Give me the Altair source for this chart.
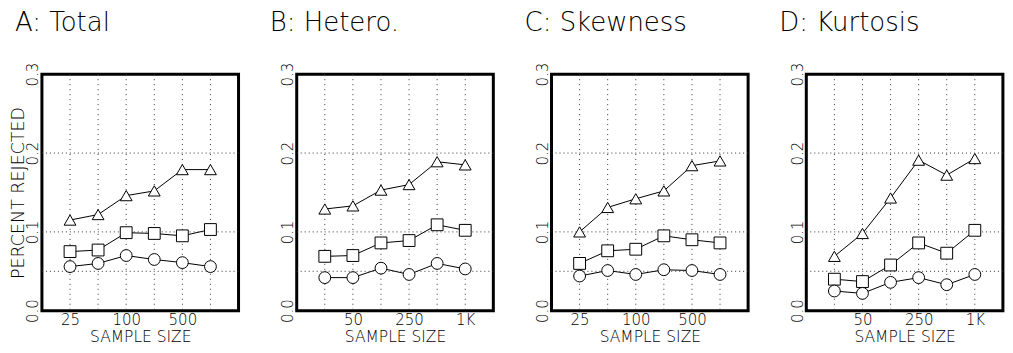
import altair as alt
import pandas as pd

# sample-size positions (1..6 correspond to 25, 50, 100, 250, 500, 1K)
positions = [1, 2, 3, 4, 5, 6]
sample_sizes = ["25", "50", "100", "250", "500", "1K"]

panel_titles = ["A: Total", "B: Hetero.", "C: Skewness", "D: Kurtosis"]
label_positions = [[1, 3, 5], [2, 4, 6], [1, 3, 5], [2, 4, 6]]

A_tri = [0.115, 0.122, 0.146, 0.152, 0.179, 0.179]
A_sq = [0.075, 0.077, 0.099, 0.098, 0.095, 0.103]
A_circ = [0.056, 0.060, 0.070, 0.065, 0.061, 0.056]
B_tri = [0.129, 0.133, 0.153, 0.160, 0.189, 0.185]
B_sq = [0.069, 0.070, 0.086, 0.089, 0.109, 0.102]
B_circ = [0.042, 0.042, 0.054, 0.046, 0.060, 0.053]
C_tri = [0.100, 0.131, 0.142, 0.152, 0.184, 0.190]
C_sq = [0.060, 0.076, 0.078, 0.095, 0.090, 0.086]
C_circ = [0.044, 0.051, 0.046, 0.052, 0.051, 0.046]
D_tri = [0.069, 0.098, 0.143, 0.191, 0.172, 0.193]
D_sq = [0.040, 0.037, 0.058, 0.086, 0.073, 0.102]
D_circ = [0.025, 0.022, 0.036, 0.042, 0.033, 0.046]

series_data = [
    (A_tri, A_sq, A_circ),
    (B_tri, B_sq, B_circ),
    (C_tri, C_sq, C_circ),
    (D_tri, D_sq, D_circ),
]
series_names = ["tri", "sq", "circ"]
y_grid = [0.05, 0.1, 0.2]
y_ticks = [0.0, 0.1, 0.2, 0.3]

FONT = "DejaVu Sans"
W, H = 197, 237

panels = []
for i, title in enumerate(panel_titles):
    rows = []
    for name, vals in zip(series_names, series_data[i]):
        for p, v in zip(positions, vals):
            rows.append({"pos": p, "value": v, "series": name})
    df = pd.DataFrame(rows)

    labs = label_positions[i]
    expr = "''"
    for p in reversed(labs):
        expr = f"datum.value == {p} ? '{sample_sizes[p - 1]}' : " + expr

    xenc = alt.X(
        "pos:Q",
        scale=alt.Scale(domain=[0, 7], nice=False, zero=False),
        axis=alt.Axis(values=labs, labelExpr=expr, grid=False, ticks=False,
                      tickSize=0, domain=False, labelPadding=2,
                      title="SAMPLE SIZE", titlePadding=2),
    )
    yaxis = alt.Axis(values=y_ticks, format=".1f", grid=False, ticks=False,
                     tickSize=0, domain=False, labelAngle=-90,
                     labelAlign="center", labelBaseline="bottom",
                     labelPadding=1, titleX=-18, titleY=H / 2,
                     titleAngle=-90, titleAlign="center",
                     titleBaseline="alphabetic")
    if i == 0:
        yenc = alt.Y("value:Q", scale=alt.Scale(domain=[0, 0.3], nice=False),
                     axis=yaxis, title="PERCENT REJECTED")
    else:
        yenc = alt.Y("value:Q", scale=alt.Scale(domain=[0, 0.3], nice=False),
                     axis=yaxis, title=None)

    vgrid = alt.Chart(pd.DataFrame({"pos": positions})).mark_rule(
        color="#333", strokeWidth=1, strokeDash=[1, 4]
    ).encode(x=alt.X("pos:Q"))
    hgrid = alt.Chart(pd.DataFrame({"value": y_grid})).mark_rule(
        color="#333", strokeWidth=1, strokeDash=[1, 3]
    ).encode(y=alt.Y("value:Q"))

    base = alt.Chart(df)
    lines = base.mark_line(color="black", strokeWidth=1).encode(
        x=xenc, y=yenc, detail="series:N"
    )
    pts = base.mark_point(filled=True, fill="white", stroke="black",
                          strokeWidth=1, size=140, opacity=1).encode(
        x=xenc, y=yenc,
        shape=alt.Shape("series:N",
                        scale=alt.Scale(domain=series_names,
                                        range=["triangle-up", "square", "circle"]),
                        legend=None),
    )
    layer = alt.layer(lines, vgrid, hgrid, pts).properties(
        width=W, height=H,
        title=alt.TitleParams(title, anchor="start", frame="group", dx=-27,
                              fontSize=26, font=FONT, fontWeight=200,
                              color="black", offset=26),
    )
    panels.append(layer)

chart = alt.hconcat(*panels, spacing=58.3, bounds="flush").properties(
    padding={"left": 0, "top": 0, "right": 0, "bottom": 0}
).configure_view(stroke="black", strokeWidth=3).configure_axis(
    labelFont=FONT, titleFont=FONT, labelFontSize=15, titleFontSize=15.5,
    labelColor="black", titleColor="black", labelFontWeight=200,
    titleFontWeight=200
).configure_axisY(titleFontSize=17.5)

chart.save("out.html", embed_options={"renderer": "svg", "actions": False})
